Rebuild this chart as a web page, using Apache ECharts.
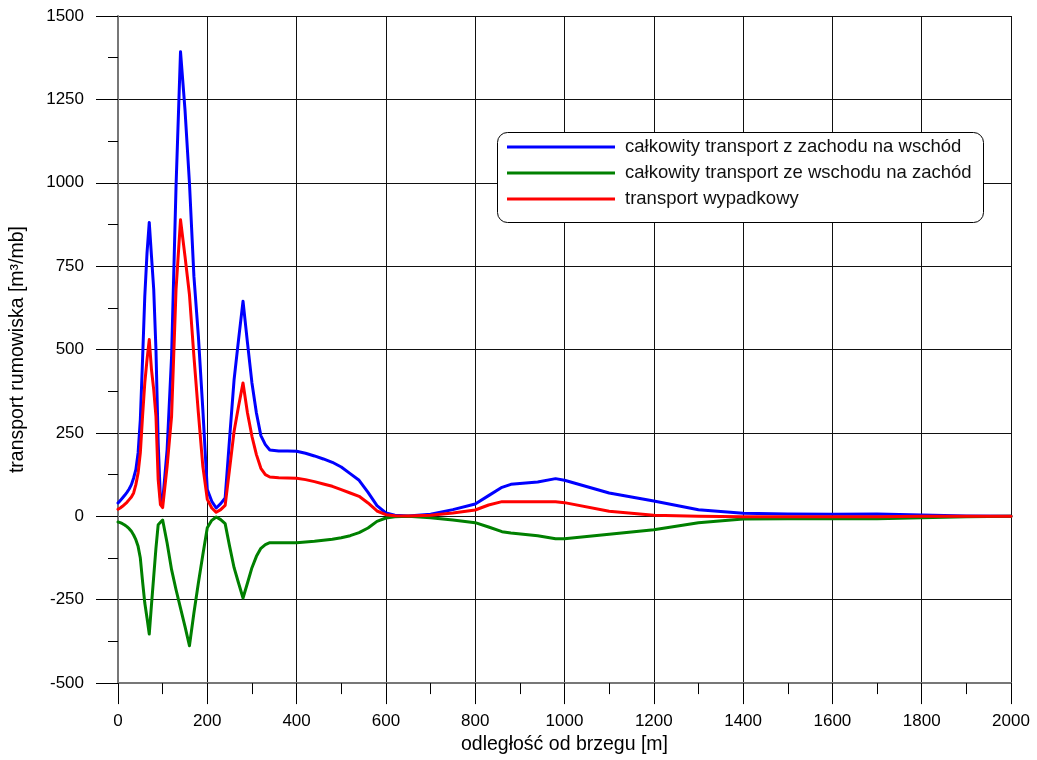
<!DOCTYPE html>
<html>
<head>
<meta charset="utf-8">
<script src="https://cdn.jsdelivr.net/npm/echarts@6/dist/echarts.min.js"></script>
<style>
html,body{margin:0;padding:0;background:#fff;}
#chart{width:1037px;height:760px;}
</style>
</head>
<body>
<div id="chart"></div>
<script>
// distance from shore [m]
const distance = [0,5,10,15,20,25,30,35,40,45,50,55,60,65,70,75,80,85,90,95,100,
  110,120,130,140,150,160,170,180,190,200,210,220,230,240,250,260,270,280,290,300,
  310,320,330,340,360,380,400,420,440,460,480,500,520,540,560,580,600,620,650,
  700,750,800,830,860,880,940,980,1000,1100,1200,1300,1400,1500,1600,1700,1800,1900,2000];

// total transport west -> east
const westEast = [40,47,55,63,72,82,95,115,140,190,290,470,660,790,881,780,680,500,220,55,45,
  200,480,990,1393,1220,1000,720,540,320,80,45,25,38,55,235,410,530,645,520,400,
  310,242,215,199,196,196,195,189,181,172,162,148,128,108,72,32,10,3,1,
  6,20,37,62,87,96,103,113,108,70,46,20,9,7,6,7,4,1,0];

// total transport east -> west
const eastWest = [-17,-19,-22,-26,-31,-37,-45,-56,-70,-90,-125,-195,-260,-305,-353,-265,-180,-95,-25,-18,-11,
  -80,-160,-220,-275,-330,-388,-290,-200,-115,-34,-12,-2,-10,-22,-90,-154,-200,-245,-200,-154,
  -120,-96,-85,-79,-79,-79,-79,-77,-75,-72,-69,-64,-58,-49,-35,-15,-5,-1,0,
  -4,-11,-19,-32,-46,-50,-58,-67,-67,-54,-40,-19,-8,-7,-7,-7,-4,-1,0];

// net transport
const netTransport = [21,25,30,36,42,50,58,70,95,130,190,300,400,470,530,440,380,300,110,35,26,
  150,300,680,889,780,665,480,310,150,51,25,12,20,33,143,255,330,400,310,240,
  185,144,125,118,116,115,114,110,104,97,90,80,70,60,40,16,5,2,1,
  3,10,19,34,44,44,44,44,41,15,3,0,-1,-1,-1,-1,0,0,0];

const seriesNames = ['całkowity transport z zachodu na wschód','całkowity transport ze wschodu na zachód','transport wypadkowy'];
const seriesColors = ['#0000ff','#008000','#ff0000'];
const xTicks = {min:0, max:2000, interval:200};
const yTicks = {min:-500, max:1500, interval:250};

const toPairs = arr => distance.map((d,i)=>[d, arr[i]]);
const values = [westEast, eastWest, netTransport];

const chart = echarts.init(document.getElementById('chart'), null, {renderer:'canvas'});
const font = 'Liberation Sans, Arial, Helvetica, sans-serif';
const plain = v => String(v);
chart.setOption({
  animation:false,
  backgroundColor:'#fff',
  textStyle:{fontFamily:font, color:'#000'},
  grid:{left:117, right:26, top:16, bottom:76, containLabel:false},
  xAxis:{
    type:'value', min:xTicks.min, max:xTicks.max, interval:xTicks.interval,
    name:'odległość od brzegu [m]', nameLocation:'middle', nameGap:51,
    nameTextStyle:{fontSize:19.5, color:'#000', fontFamily:font},
    axisLine:{show:true, onZero:false, lineStyle:{color:'#777', width:2}},
    axisTick:{show:true, inside:false, length:21, lineStyle:{color:'#000', width:1}},
    minorTick:{show:true, splitNumber:2, length:11, lineStyle:{color:'#000', width:1}},
    axisLabel:{fontSize:17, color:'#000', margin:30, fontFamily:font, formatter:plain},
    splitLine:{show:true, lineStyle:{color:'#111', width:1}}
  },
  yAxis:{
    type:'value', min:yTicks.min, max:yTicks.max, interval:yTicks.interval,
    name:'transport rumowiska [m³/mb]', nameLocation:'middle', nameGap:90,
    nameTextStyle:{fontSize:19.5, color:'#000', fontFamily:font},
    axisLine:{show:true, onZero:false, lineStyle:{color:'#777', width:2}},
    axisTick:{show:true, inside:false, length:22, lineStyle:{color:'#000', width:1}},
    minorTick:{show:true, splitNumber:2, length:10, lineStyle:{color:'#000', width:1}},
    axisLabel:{fontSize:17, color:'#000', margin:34, fontFamily:font, formatter:plain},
    splitLine:{show:true, lineStyle:{color:'#111', width:1}}
  },
  graphic:[{
    type:'rect', z:90, left:497, top:132,
    shape:{width:486, height:90, r:10},
    style:{fill:'#fff', stroke:'#000', lineWidth:1}
  }],
  legend:{
    z:100, orient:'vertical', left:497, top:132,
    padding:[5,10,10,10], itemGap:6, itemWidth:108, itemHeight:3,
    icon:'rect',
    textStyle:{fontSize:18.5, color:'#111', fontFamily:font, lineHeight:20, padding:[0,0,0,5]},
    data:seriesNames
  },
  series: values.map((v,i)=>({
    name:seriesNames[i], type:'line', data:toPairs(v),
    symbol:'none', showSymbol:false, smooth:false, z:3,
    lineStyle:{color:seriesColors[i], width:3, join:'round', cap:'round'},
    itemStyle:{color:seriesColors[i]}
  }))
});
</script>
</body>
</html>
